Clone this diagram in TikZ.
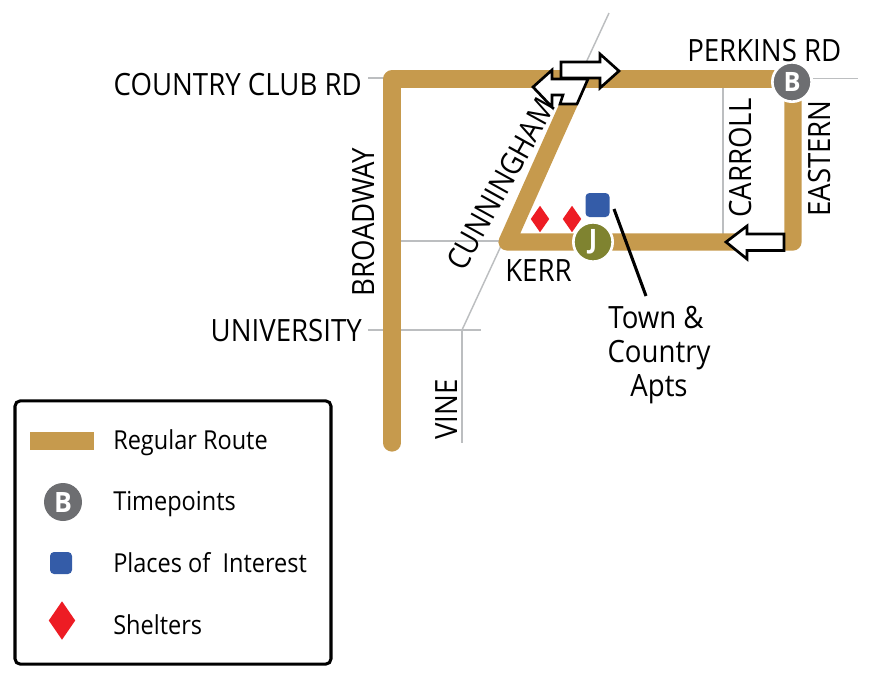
\documentclass[tikz,border=0pt]{standalone}
\usepackage{fontspec}
\setmainfont{Open Sans}[FakeStretch=0.9]
\newfontfamily\boldf{Open Sans}[FakeStretch=0.95]
\usetikzlibrary{shapes.geometric}
\definecolor{routec}{HTML}{C69A4D}
\definecolor{roadc}{HTML}{BCBEC0}
\definecolor{timeb}{HTML}{6D6E71}
\definecolor{timej}{HTML}{7F8330}
\definecolor{poic}{HTML}{345CA8}
\definecolor{shelterc}{HTML}{ED1C24}
\tikzset{
  x=0.75pt,y=-0.75pt,
  route/.style={draw=routec,line width=12.9pt,line join=round,line cap=round},
  road/.style={draw=roadc,line width=1.1pt},
  flow/.style={draw=black,fill=white,line width=2pt,miter limit=10},
  big/.style={inner sep=0,font=\fontsize{23}{23}\selectfont,text=black},
  leg/.style={inner sep=0,anchor=base west,font=\fontsize{19.6}{19.6}\selectfont,text=black},
  tp/.style={circle,draw=white,line width=2pt,minimum size=29.5pt,inner sep=0,text=white,font=\boldf\bfseries\fontsize{20}{20}\selectfont},
  tpleg/.style={circle,minimum size=28.5pt,inner sep=0,text=white,font=\boldf\bfseries\fontsize{21}{21}\selectfont},
  poi/.style={fill=poic,rounded corners=3pt},
  shelter/.style={diamond,fill=shelterc,inner sep=0,aspect=0.7},
}
\begin{document}
\begin{tikzpicture}
\useasboundingbox (0,0) rectangle (874,676);
% roads
\draw[road] (368,78) -- (386,78);
\draw[road] (609,13) -- (462,330);
\draw[road] (462,330) -- (462,443);
\draw[road] (368,330) -- (481,330);
\draw[road] (400,241) -- (500,241);
\draw[road] (723,85) -- (723,236);
\draw[road] (813,78.5) -- (858,78.5);
% route
\draw[route] (392,443) -- (392,79) -- (792,79);
\draw[route] (793,82) -- (793,242) -- (507,242) -- (552.5,140) -- (580,79);
% labels under the arrows
\node[big,anchor=base west,rotate=61] (cun) at (464,273) {CUNNINGHAM};
% arrows
\draw[flow] (533,87) -- (552,70) -- (552,79) -- (588,79) -- (577,104) -- (560,104) -- (563,95) -- (552,95) -- (552,107) -- cycle;
\draw[flow] (561,62) -- (600,62) -- (600,54) -- (619,71) -- (600,88) -- (600,78) -- (561,78) -- cycle;
\draw[flow] (726,242) -- (747,226) -- (747,234) -- (784,234) -- (784,250.5) -- (747,250.5) -- (747,259) -- cycle;
% shelters, POI
\node[shelter,minimum width=14pt,minimum height=20pt] (s1) at (540,219) {};
\node[shelter,minimum width=14pt,minimum height=20pt] (s2) at (572,219) {};
\node[poi,minimum size=18pt] (p1) at (597.5,205) {};
% timepoints
\node[tp,fill=timej] (j) at (593,242) {J};
\node[tp,fill=timeb] (b) at (792,82) {B};
% leader
\coordinate (la) at (614,209);
\coordinate (lb) at (646,296);
\draw[black,line width=2.3pt] (la) -- (lb);
% labels
\node[big,anchor=base east] (ccr) at (362,95) {COUNTRY CLUB RD};
\node[big,anchor=base west] (per) at (687,61) {PERKINS RD};
\node[big,anchor=base west] (ker) at (505,281) {KERR};
\node[big,anchor=base east] (uni) at (362,341) {UNIVERSITY};
\node[big,anchor=base west,rotate=90] (bro) at (374,297) {BROADWAY};
\node[big,anchor=base west,rotate=90] (car) at (751,218) {CARROLL};
\node[big,anchor=base west,rotate=90] (eas) at (830,217) {EASTERN};
\node[big,anchor=base west,rotate=90] (vin) at (457,440) {VINE};
\node[big,anchor=base] (t1) at (656,328) {Town \&};
\node[big,anchor=base] (t2) at (659,362) {Country};
\node[big,anchor=base] (t3) at (659,396) {Apts};
% legend
\node[draw=black,line width=2.3pt,rounded corners=4pt,minimum width=237pt,minimum height=197.5pt,inner sep=0] (box) at (173,532.5) {};
\node[fill=routec,minimum width=48pt,minimum height=13pt,inner sep=0] (lr) at (62,441) {};
\node[tpleg,fill=timeb] (lb2) at (63,502) {B};
\node[poi,minimum size=16.5pt] (lp) at (61,563) {};
\node[shelter,minimum width=20pt,minimum height=29pt] (ls) at (62,620.5) {};
\node[leg] (l1) at (113,449) {Regular Route};
\node[leg] (l2) at (113,510) {Timepoints};
\node[leg] (l3) at (113,572) {Places of\ \ Interest};
\node[leg] (l4) at (113,634) {Shelters};
\end{tikzpicture}
\end{document}
